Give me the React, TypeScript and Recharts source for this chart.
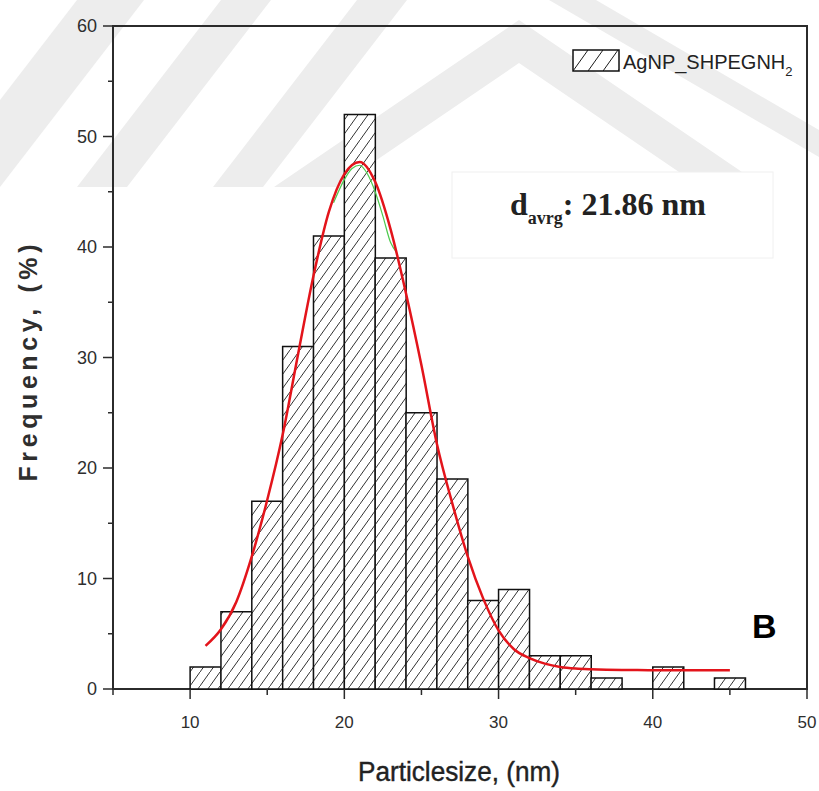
import React from 'react'
import { ComposedChart, Bar, Line, XAxis, YAxis, ReferenceArea } from 'recharts'

// histogram bins (2 nm wide, given by their centres)
const binCenters = [11, 13, 15, 17, 19, 21, 23, 25, 27, 29, 31, 33, 35, 37, 39, 41, 43, 45]
const frequency = [2, 7, 17, 31, 41, 52, 39, 25, 19, 8, 9, 3, 3, 1, 0, 2, 0, 1]

// red fitted curve
const fitX = [11, 12, 13, 14, 15, 16, 17, 18, 19, 20, 21, 22, 23, 24, 25, 26, 27, 28, 29, 30, 31, 32, 33, 34, 35, 36, 37, 38, 39, 40, 41, 42, 43, 44, 45]
const fitY = [3.9, 5.4, 7.9, 12.0, 17.1, 23.0, 30.3, 37.4, 43.2, 46.6, 47.7, 45.9, 41.6, 35.8, 29.3, 22.2, 16.8, 12.0, 8.2, 5.3, 3.6, 2.8, 2.3, 2.0, 1.85, 1.78, 1.74, 1.72, 1.71, 1.7, 1.7, 1.7, 1.7, 1.7, 1.7]

// thin green curve visible around the peak
const greenX = [19.3, 20, 20.5, 21, 21.5, 22, 22.5, 23, 23.4]
const greenY = [44.0, 46.1, 47.1, 47.4, 46.6, 45.0, 42.8, 40.4, 39.5]

const xDomain = [5, 50]
const yDomain = [0, 60]
const xTicks = [5, 10, 15, 20, 25, 30, 35, 40, 45, 50]
const xLabels = [10, 20, 30, 40, 50]
const yTicks = [0, 5, 10, 15, 20, 25, 30, 35, 40, 45, 50, 55, 60]
const yLabels = [0, 10, 20, 30, 40, 50, 60]

const barData = binCenters.map((x, i) => ({ x, freq: frequency[i] }))
const fitData = fitX.map((x, i) => ({ x, y: fitY[i] }))
const greenData = greenX.map((x, i) => ({ x, y: greenY[i] }))

const AXIS = '#2b2b2b'
const TEXT = '#2e2e2e'
const SANS = '"Liberation Sans", Arial, sans-serif'
const SERIF = '"Liberation Serif", "Times New Roman", serif'
const MARK = '#ededed'

function XTick({ x, y, payload }: any) {
  const major = xLabels.includes(payload.value)
  return (
    <g>
      <line x1={x} x2={x} y1={y} y2={y + (major ? 10 : 6)} stroke={AXIS} strokeWidth={1.5} />
      {major && (
        <text x={x} y={y + 39} textAnchor="middle" fontSize={17} fill={TEXT} fontFamily={SANS}>
          {payload.value}
        </text>
      )}
    </g>
  )
}

function YTick({ x, y, payload }: any) {
  const major = yLabels.includes(payload.value)
  return (
    <g>
      <line x1={x - (major ? 10 : 5)} x2={x} y1={y} y2={y} stroke={AXIS} strokeWidth={1.5} />
      {major && (
        <text x={x - 16} y={y + 6} textAnchor="end" fontSize={18} fill={TEXT} fontFamily={SANS}>
          {payload.value}
        </text>
      )}
    </g>
  )
}

export default function App() {
  return (
    <div style={{ position: 'absolute', left: 0, top: 0, width: 819, height: 791, background: '#fff' }}>
      {/* watermark + hatch pattern */}
      <svg width={819} height={791} style={{ position: 'absolute', left: 0, top: 0 }}>
        <defs>
          <pattern id="hatch" patternUnits="userSpaceOnUse" width={10} height={14}>
            <rect width={10} height={14} fill="#fff" />
            <line x1={0} y1={14} x2={10} y2={0} stroke="#1a1a1a" strokeWidth={0.9} />
          </pattern>
          <pattern id="hatchLegend" patternUnits="userSpaceOnUse" width={15} height={21} x={573} y={50}>
            <rect width={15} height={21} fill="#fff" />
            <line x1={0} y1={21} x2={15} y2={0} stroke="#1a1a1a" strokeWidth={1} />
          </pattern>
        </defs>
        <polygon points="0,100 77,0 144,0 0,187" fill={MARK} />
        <polygon points="77,187 221,0 271,0 127,187" fill={MARK} />
        <polygon points="213,187 357,0 407,0 263,187" fill={MARK} />
        <polygon points="274,187 519,20 764,187 701,187 519,63 337,187" fill={MARK} />
        <polygon points="549,0 596,0 819,130 819,157" fill={MARK} />
      </svg>

      <ComposedChart
        width={819}
        height={791}
        data={barData}
        margin={{ top: 26, right: 12, left: 53, bottom: 42 }}
        barCategoryGap={0}
        barGap={0}
      >
        <XAxis
          dataKey="x"
          type="number"
          domain={xDomain}
          ticks={xTicks}
          interval={0}
          tick={<XTick />}
          tickLine={false}
          tickSize={0}
          tickMargin={0}
          height={60}
          allowDataOverflow
          axisLine={false}
        />
        <XAxis xAxisId="curve" dataKey="x" type="number" domain={xDomain} hide allowDataOverflow />
        <YAxis
          type="number"
          domain={yDomain}
          ticks={yTicks}
          interval={0}
          tick={<YTick />}
          tickLine={false}
          tickSize={0}
          tickMargin={0}
          width={60}
          axisLine={false}
        />
        {/* plot frame */}
        <ReferenceArea
          x1={xDomain[0]}
          x2={xDomain[1]}
          y1={yDomain[0]}
          y2={yDomain[1]}
          fill="none"
          fillOpacity={0}
          stroke={AXIS}
          strokeWidth={2}
          strokeOpacity={1}
          ifOverflow="visible"
        />
        <Bar dataKey="freq" fill="url(#hatch)" stroke="#111" strokeWidth={1.5} isAnimationActive={false} />
        <Line
          xAxisId="curve"
          data={greenData}
          dataKey="y"
          type="monotone"
          stroke="#4cc94c"
          strokeWidth={1.2}
          dot={false}
          isAnimationActive={false}
        />
        <Line
          xAxisId="curve"
          data={fitData}
          dataKey="y"
          type="monotone"
          stroke="#e3141b"
          strokeWidth={2.5}
          dot={false}
          isAnimationActive={false}
        />
      </ComposedChart>

      {/* titles, legend and annotations */}
      <svg width={819} height={791} style={{ position: 'absolute', left: 0, top: 0, pointerEvents: 'none' }}>
        <text
          x={37}
          y={363}
          transform="rotate(-90 37 363)"
          textAnchor="middle"
          fontSize={25}
          fontWeight="bold"
          fontFamily={SANS}
          fill={TEXT}
          textLength={237}
          lengthAdjust="spacing"
        >
          Frequency, (%)
        </text>
        <text
          x={459}
          y={781}
          textAnchor="middle"
          fontSize={27}
          fontFamily={SANS}
          fill="#222"
          stroke="#222"
          strokeWidth={0.4}
          textLength={202}
          lengthAdjust="spacingAndGlyphs"
        >
          Particlesize, (nm)
        </text>

        <rect x={573} y={50} width={46} height={21} fill="url(#hatchLegend)" stroke="#111" strokeWidth={1.5} />
        <text x={623} y={69} fontSize={20} fontFamily={SANS} fill="#222">
          AgNP_SHPEGNH
          <tspan fontSize={13} dy={7}>2</tspan>
        </text>

        <rect x={452} y={172} width={321} height={86} fill="#fff" stroke="#f0f0f0" strokeWidth={1} />
        <text x={510} y={215} fontSize={32} fontWeight="bold" fontFamily={SERIF} fill="#222">
          d
          <tspan fontSize={18} dy={9}>avrg</tspan>
          <tspan dy={-9}>: 21.86 nm</tspan>
        </text>

        <text x={752} y={638} fontSize={34} fontWeight="bold" fontFamily={SANS} fill="#000">
          B
        </text>
      </svg>
    </div>
  )
}
